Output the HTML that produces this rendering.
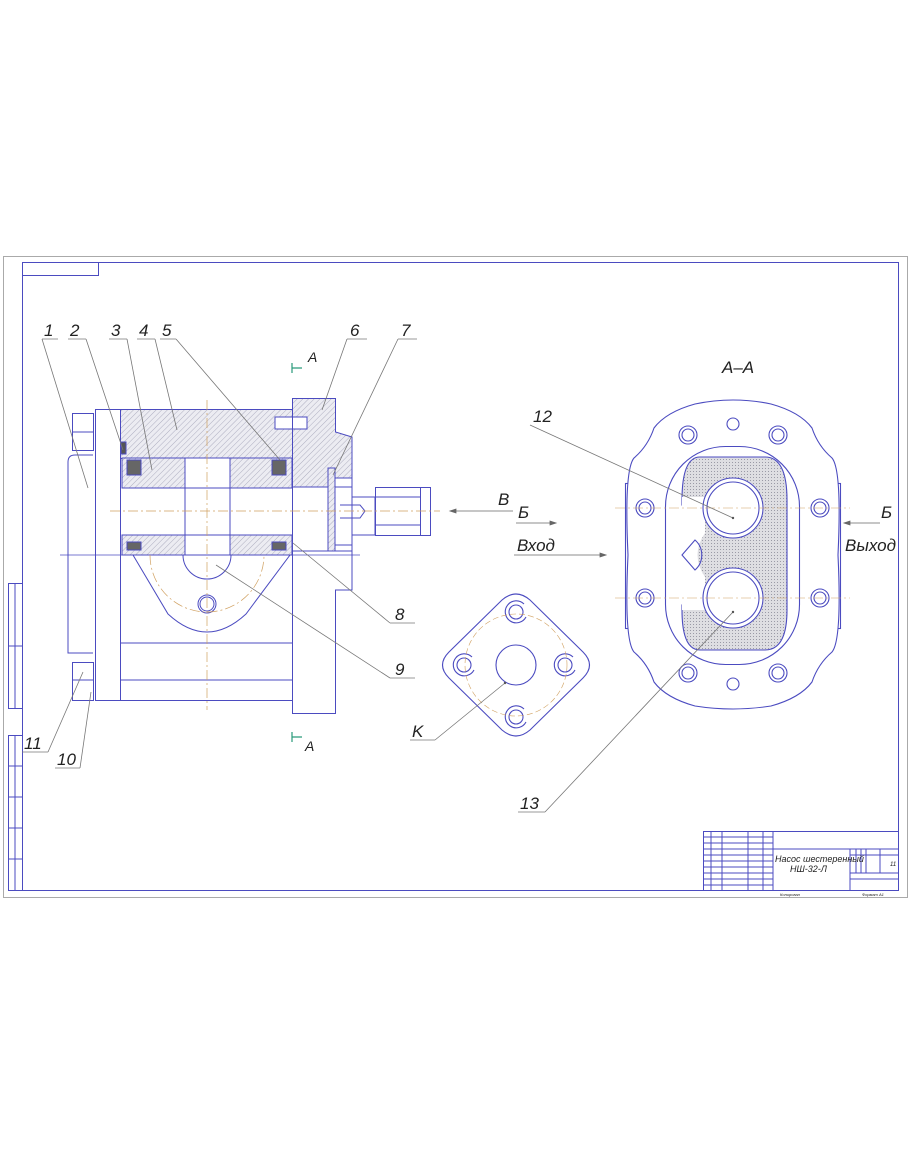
<!DOCTYPE html>
<html><head><meta charset="utf-8"><style>
html,body{margin:0;padding:0;background:#fff}
svg{display:block}
text{font-family:"Liberation Sans",sans-serif;font-style:italic;fill:#222}
</style></head><body>
<svg width="910" height="1155" viewBox="0 0 910 1155" xmlns="http://www.w3.org/2000/svg">
<defs>
<pattern id="h" width="4" height="4" patternUnits="userSpaceOnUse" patternTransform="rotate(45)">
<rect width="4" height="4" fill="#ececf2"/><line x1="0" y1="0" x2="0" y2="4" stroke="#aeaec0" stroke-width="1"/></pattern>
<pattern id="c" width="3" height="3" patternUnits="userSpaceOnUse">
<rect width="3" height="3" fill="#dedee2"/><rect width="1" height="1" fill="#9a9aa6"/></pattern>
</defs>
<g fill="none" stroke="#4b4bc0" stroke-width="1">
<rect x="3.5" y="256.5" width="904" height="641" stroke="#aaa"/>
<rect x="22.5" y="262.5" width="876" height="628"/>
<rect x="22.5" y="262.5" width="76" height="13"/>
<rect x="8.5" y="583.5" width="14" height="125"/>
<line x1="15" y1="583" x2="15" y2="708"/><line x1="8" y1="646" x2="22" y2="646"/>
<rect x="8.5" y="735.5" width="14" height="155"/>
<line x1="15" y1="735" x2="15" y2="890"/>
<line x1="8" y1="766" x2="22" y2="766"/><line x1="8" y1="797" x2="22" y2="797"/><line x1="8" y1="828" x2="22" y2="828"/><line x1="8" y1="859" x2="22" y2="859"/>
<rect x="703.5" y="831.5" width="195" height="59"/>
<line x1="703" y1="849" x2="773" y2="849"/><line x1="703" y1="855" x2="773" y2="855"/>
<line x1="703" y1="861" x2="773" y2="861"/><line x1="703" y1="867" x2="773" y2="867"/><line x1="703" y1="873" x2="773" y2="873"/><line x1="703" y1="879" x2="773" y2="879"/><line x1="703" y1="885" x2="773" y2="885"/>
<line x1="703" y1="843" x2="773" y2="843"/><line x1="703" y1="837" x2="773" y2="837"/>
<line x1="711" y1="831" x2="711" y2="890"/><line x1="722" y1="831" x2="722" y2="890"/><line x1="748" y1="831" x2="748" y2="890"/><line x1="763" y1="831" x2="763" y2="890"/><line x1="773" y1="831" x2="773" y2="890"/>
<line x1="773" y1="849" x2="898" y2="849"/>
<line x1="850" y1="849" x2="850" y2="890"/>
<line x1="850" y1="855" x2="898" y2="855"/><line x1="850" y1="873" x2="898" y2="873"/><line x1="850" y1="879" x2="898" y2="879"/>
<line x1="856" y1="849" x2="856" y2="873"/><line x1="861" y1="849" x2="861" y2="873"/><line x1="866" y1="849" x2="866" y2="873"/><line x1="880" y1="849" x2="880" y2="873"/>
</g>
<g font-size="6" fill="#666"><text x="775" y="862" font-size="9">Насос шестеренный</text><text x="790" y="872" font-size="9">НШ-32-Л</text><text x="890" y="866" font-size="6">11</text>
<text x="780" y="896" font-size="4">Копировал</text><text x="862" y="896" font-size="4">Формат A1</text></g>

<g stroke="#4b4bc0" stroke-width="1">
<rect x="120.5" y="409.5" width="172" height="49" fill="url(#h)"/>
<rect x="122" y="458" width="170" height="30" fill="url(#h)"/>
<rect x="122" y="535" width="170" height="20" fill="url(#h)"/>
<rect x="185" y="458" width="45" height="97" fill="#fff"/>
<rect x="127" y="460" width="14" height="15" fill="#666"/>
<rect x="272" y="460" width="14" height="15" fill="#666"/>
<rect x="127" y="542" width="14" height="8" fill="#666"/>
<rect x="272" y="542" width="14" height="8" fill="#666"/>
<rect x="121" y="442" width="5" height="12" fill="#555"/>
<path d="M292.5 398.5 H335.5 V432 L352 437 V478 H335 V487 H292.5 Z" fill="url(#h)"/>
<rect x="275" y="417" width="32" height="12" fill="#fff"/>
<path d="M292.5 487 V713.5 H335.5 V590 H352 V437" fill="none"/>
<line x1="292" y1="551" x2="352" y2="551" fill="none"/>
<rect x="328" y="468" width="7" height="83" fill="url(#h)"/>
</g>
<g fill="none" stroke="#4b4bc0" stroke-width="1">
<rect x="95.5" y="409.5" width="25" height="291"/>
<rect x="120.5" y="409.5" width="172" height="291"/>
<path d="M93 455 H75 Q68 455 68 462 V653 H93"/>
<rect x="72.5" y="413.5" width="21" height="37"/><line x1="72" y1="432" x2="93" y2="432"/>
<rect x="72.5" y="662.5" width="21" height="38"/><line x1="72" y1="680" x2="93" y2="680"/>
<line x1="122" y1="488" x2="292" y2="488"/><line x1="122" y1="535" x2="292" y2="535"/>
<line x1="120" y1="643" x2="292" y2="643"/><line x1="120" y1="680" x2="292" y2="680"/>
<path d="M335 487 H352 V497 H375 V535 H352 V545 H335"/>
<rect x="375.5" y="487.5" width="45" height="48"/><rect x="420.5" y="487.5" width="10" height="48"/>
<line x1="375" y1="497" x2="420" y2="497"/><line x1="375" y1="525" x2="420" y2="525"/>
<path d="M340 505 H360 L365 511 L360 518 H340"/>
<path d="M133 555 H290 L246 614 Q207 650 168 614 Z"/>
<path d="M183 555 A24 24 0 0 0 231 555"/>
<circle cx="207" cy="604" r="9"/><circle cx="207" cy="604" r="7"/>
<line x1="60" y1="555" x2="360" y2="555" stroke-width="0.7"/>
</g>
<g stroke="#d0a060" stroke-width="0.7" stroke-dasharray="10 3 2 3" fill="none">
<line x1="110" y1="511" x2="440" y2="511"/>
<line x1="207" y1="400" x2="207" y2="710"/>
<path d="M150 555 A57 57 0 0 0 264 555"/>
</g>
<g fill="none" stroke="#2a9a7a" stroke-width="1.2">
<path d="M292 363 V373 M292 368 H302"/><path d="M292 732 V742 M292 737 H302"/>
</g>
<g font-size="17">
<text x="44" y="336">1</text><text x="70" y="336">2</text><text x="111" y="336">3</text><text x="139" y="336">4</text><text x="162" y="336">5</text>
<text x="350" y="336">6</text><text x="401" y="336">7</text>
<text x="395" y="620">8</text><text x="395" y="675">9</text>
<text x="24" y="749">11</text><text x="57" y="765">10</text>
<text x="412" y="737">K</text><text x="533" y="422">12</text><text x="520" y="809">13</text>
<text x="308" y="362" font-style="normal" font-size="14">A</text><text x="305" y="751" font-style="normal" font-size="14">A</text>
<text x="722" y="373">A–A</text>
<text x="498" y="505">В</text><text x="518" y="518">Б</text><text x="517" y="551">Вход</text>
<text x="881" y="518">Б</text><text x="845" y="551">Выход</text>
</g>
<g stroke="#666" stroke-width="0.8" fill="#666">
<line x1="450" y1="511" x2="513" y2="511"/><path d="M450 511 l6 -2 v4z"/>
<line x1="516" y1="523" x2="555" y2="523"/><path d="M556 523 l-6 -2 v4z"/>
<line x1="514" y1="555" x2="605" y2="555"/><path d="M606 555 l-6 -2 v4z"/>
<line x1="845" y1="523" x2="880" y2="523"/><path d="M844 523 l6 -2 v4z"/>
</g>

<g fill="none" stroke="#4b4bc0" stroke-width="1.1">
<path d="M502 600 Q516 588 530 600 L583 652 Q596 665 583 678 L530 730 Q516 742 502 730 L449 678 Q436 665 449 652 Z"/>
<circle cx="516" cy="665" r="20"/>
<circle cx="516" cy="612" r="7"/><path d="M524 604 A11 11 0 1 0 526 617"/>
<circle cx="516" cy="717" r="7"/><path d="M524 709 A11 11 0 1 0 526 722"/>
<circle cx="464" cy="665" r="7"/><path d="M472 657 A11 11 0 1 0 474 670"/>
<circle cx="565" cy="665" r="7"/><path d="M573 657 A11 11 0 1 0 575 670"/>
</g>
<g stroke="#d0a060" stroke-width="0.6" fill="none" stroke-dasharray="6 3"><circle cx="516" cy="665" r="51"/></g>

<g fill="none" stroke="#4b4bc0" stroke-width="1.1">
<rect x="625.5" y="483.5" width="215" height="145"/>
<path d="M695 404 Q733 396 771 404 Q800 412 812 428 Q818 446 832 458 Q842 470 838 555 Q842 640 832 652 Q818 664 812 682 Q800 698 771 706 Q733 712 695 706 Q666 698 654 682 Q648 664 634 652 Q624 640 628 555 Q624 470 634 458 Q648 446 654 428 Q666 412 695 404 Z" fill="#fff"/>
<rect x="665.5" y="446.5" width="134" height="218" rx="60"/>
<path d="M700 457 H765 Q787 457 787 500 V610 Q787 650 765 650 H700 Q682 650 682 610 V605 L700 575 Q690 555 700 535 L682 505 V500 Q682 457 700 457 Z" fill="url(#c)"/>
<path d="M682 497 H705 V533 Q690 555 705 577 V610 H682 Z" fill="#fff" stroke="none"/>
<path d="M682 555 L695 540 A20 20 0 0 1 695 570 Z"/>
<circle cx="733" cy="508" r="30" fill="#fff"/><circle cx="733" cy="508" r="26"/>
<circle cx="733" cy="598" r="30" fill="#fff"/><circle cx="733" cy="598" r="26"/>
<circle cx="688" cy="435" r="6"/><circle cx="688" cy="435" r="9"/>
<circle cx="733" cy="424" r="6"/>
<circle cx="778" cy="435" r="6"/><circle cx="778" cy="435" r="9"/>
<circle cx="645" cy="508" r="6"/><circle cx="645" cy="508" r="9"/>
<circle cx="820" cy="508" r="6"/><circle cx="820" cy="508" r="9"/>
<circle cx="645" cy="598" r="6"/><circle cx="645" cy="598" r="9"/>
<circle cx="820" cy="598" r="6"/><circle cx="820" cy="598" r="9"/>
<circle cx="688" cy="673" r="6"/><circle cx="688" cy="673" r="9"/>
<circle cx="733" cy="684" r="6"/>
<circle cx="778" cy="673" r="6"/><circle cx="778" cy="673" r="9"/>
</g>
<g stroke="#d0a060" stroke-width="0.6" stroke-dasharray="10 3 2 3"><line x1="615" y1="508" x2="850" y2="508"/><line x1="615" y1="598" x2="850" y2="598"/></g>

<g stroke="#777" stroke-width="0.8" fill="none">
<path d="M42 339 H58 M42 339 L88 488"/>
<path d="M68 339 H86 M86 339 L123 450"/>
<path d="M109 339 H127 M127 339 L152 470"/>
<path d="M137 339 H155 M155 339 L177 430"/>
<path d="M160 339 H176 M176 339 L280 460"/>
<path d="M347 339 H367 M347 339 L322 410"/>
<path d="M398 339 H417 M398 339 L333 475"/>
<path d="M390 623 H415 M390 623 L293 543"/>
<path d="M390 678 H415 M390 678 L216 565"/>
<path d="M22 752 H48 M48 752 L83 672"/>
<path d="M55 768 H80 M80 768 L91 692"/>
<path d="M410 740 H435 M435 740 L505 683"/>
<path d="M518 812 H545 M545 812 L733 612"/>
<path d="M530 425 L733 518"/>
</g>
<g fill="#555"><circle cx="733" cy="518" r="1.2"/><circle cx="733" cy="612" r="1.2"/><circle cx="505" cy="683" r="1.2"/></g>
</svg>
</body></html>
